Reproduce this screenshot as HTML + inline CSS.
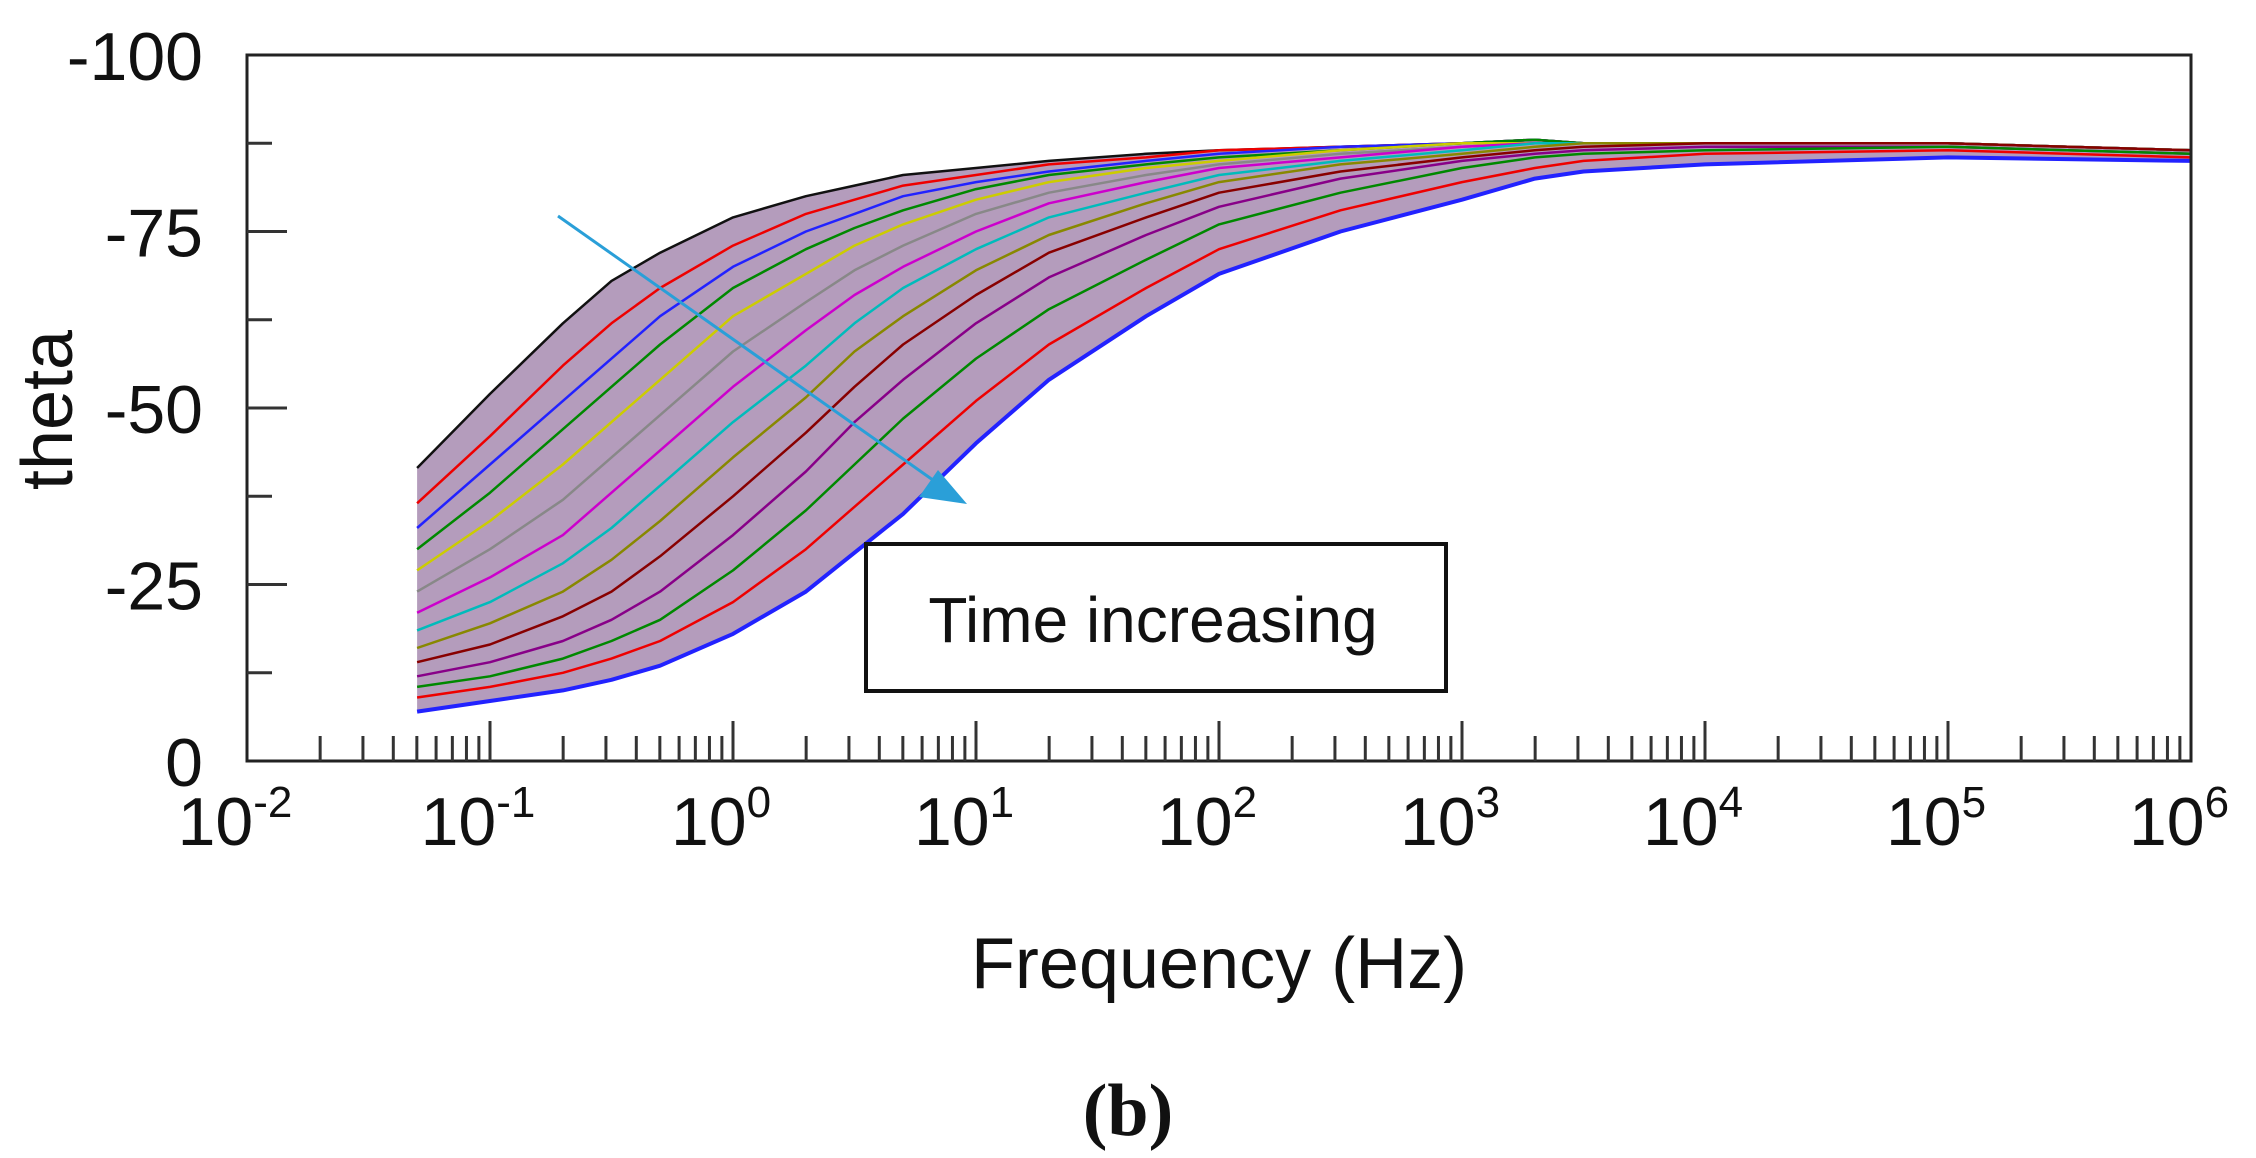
<!DOCTYPE html>
<html><head><meta charset="utf-8"><style>
html,body{margin:0;padding:0;background:#fff;}
svg{display:block;}
text{font-family:"Liberation Sans",sans-serif;fill:#111;}
</style></head><body>
<svg id="chart" width="2256" height="1158" viewBox="0 0 2256 1158" xmlns="http://www.w3.org/2000/svg">
<g id="band"></g>
<g id="curves"></g>
<rect x="247" y="55" width="1944" height="706" fill="none" stroke="#222" stroke-width="3"/>
<g id="ticks"></g>
<g id="labels"></g>
<text transform="translate(72,410) rotate(-90)" text-anchor="middle" font-size="72">theta</text>
<text x="1219" y="988" text-anchor="middle" font-size="72">Frequency (Hz)</text>
<text x="1128" y="1135" text-anchor="middle" font-size="74" font-weight="bold" style="font-family:'Liberation Serif',serif">(b)</text>
<g>
<line x1="558" y1="216" x2="940" y2="485" stroke="#2a9fd8" stroke-width="3"/>
<polygon points="967,504 919,497 938,470" fill="#2a9fd8"/>
</g>
<rect x="866" y="544" width="580" height="147" fill="#fff" stroke="#111" stroke-width="4"/>
<text x="1153" y="642" text-anchor="middle" font-size="64">Time increasing</text>
</svg>
<script>
const logFreq=[-1.3,-1,-0.7,-0.5,-0.3,0,0.3,0.5,0.7,1,1.3,1.7,2,2.5,3,3.3,3.5,4,5,6];
const c1=[-41.5,-52,-62,-68,-72,-77,-80,-81.5,-83,-84,-85,-86,-86.5,-87,-87.5,-88,-87.5,-87.5,-87.5,-86.5];
const c2=[-36.5,-46,-56,-62,-67,-73,-77.5,-79.5,-81.5,-83,-84.5,-85.5,-86.5,-87,-87.5,-88,-87.5,-87.5,-87.5,-86.5];
const c3=[-33,-42,-51,-57,-63,-70,-75,-77.5,-80,-82,-83.5,-85,-86,-87,-87.5,-88,-87.5,-87.5,-87.5,-86.5];
const c4=[-30,-38,-47,-53,-59,-67,-72.5,-75.5,-78,-81,-83,-84.5,-85.5,-86.5,-87.5,-88,-87.5,-87.5,-87.5,-86.5];
const c5=[-27,-34,-42,-48,-54,-63,-69,-73,-76,-79.5,-82,-84,-85,-86.5,-87.5,-87.5,-87.5,-87.5,-87.5,-86.5];
const c6=[-24,-30,-37,-43,-49,-58,-65,-69.5,-73,-77.5,-80.5,-83,-84.5,-86,-87,-87.5,-87.5,-87.5,-87.5,-86.5];
const c7=[-21,-26,-32,-38,-44,-53,-61,-66,-70,-75,-79,-82,-84,-85.5,-87,-87.5,-87.5,-87.5,-87.5,-86.5];
const c8=[-18.5,-22.5,-28,-33,-39,-48,-56,-62,-67,-72.5,-77,-80.5,-83,-85,-86.5,-87.5,-87.5,-87.5,-87.5,-86.5];
const c9=[-16,-19.5,-24,-28.5,-34,-43,-51.5,-58,-63,-69.5,-74.5,-79,-82,-84.5,-86,-87,-87.5,-87.5,-87.5,-86.5];
const c10=[-14,-16.5,-20.5,-24,-29,-37.5,-46.5,-53,-59,-66,-72,-77,-80.5,-83.5,-85.5,-86.5,-87,-87.5,-87.5,-86.5];
const c11=[-12,-14,-17,-20,-24,-32,-41,-48,-54,-62,-68.5,-74.5,-78.5,-82.5,-85,-86,-86.5,-87,-87,-86];
const c12=[-10.5,-12,-14.5,-17,-20,-27,-35.5,-42,-48.5,-57,-64,-71,-76,-80.5,-84,-85.5,-86,-86.5,-87,-86];
const c13=[-9,-10.5,-12.5,-14.5,-17,-22.5,-30,-36,-42,-51,-59,-67,-72.5,-78,-82,-84,-85,-86,-86.5,-85.5];
const c14=[-7,-8.5,-10,-11.5,-13.5,-18,-24,-29.5,-35,-45,-54,-63,-69,-75,-79.5,-82.5,-83.5,-84.5,-85.5,-85];
const seriesList=[c1,c2,c3,c4,c5,c6,c7,c8,c9,c10,c11,c12,c13,c14];
const colors=["#111","#e00","#22f","#080","#cc0","#888","#c0c","#0bb","#880","#800","#808","#080","#e00","#22f"];
const yTickValues=[-100,-75,-50,-25,0];
const yTickLabels=["-100","-75","-50","-25","0"];
const xDecades=[-2,-1,0,1,2,3,4,5,6];

const NS="http://www.w3.org/2000/svg";
const X0=247,X1=2191,Y0=55,Y1=761;
const xScale=l=>X0+(l+2)/8*(X1-X0);
const yScale=v=>Y1+(v/100)*(Y1-Y0);
function mk(tag,attrs,parent){const e=document.createElementNS(NS,tag);for(const k in attrs)e.setAttribute(k,attrs[k]);parent.appendChild(e);return e;}

const band=document.getElementById('band');
let pts=logFreq.map((l,i)=>xScale(l)+","+yScale(c1[i]));
for(let i=logFreq.length-1;i>=0;i--)pts.push(xScale(logFreq[i])+","+yScale(c14[i]));
const bp=mk('polygon',{points:pts.join(" "),fill:"#6a3a7a","fill-opacity":"0.5"},band);



const cg=document.getElementById('curves');
seriesList.forEach((s,k)=>{
  const d=s.map((v,i)=>(i?"L":"M")+xScale(logFreq[i]).toFixed(1)+" "+yScale(v).toFixed(1)).join(" ");
  const p=mk('path',{d:d,fill:"none",stroke:colors[k],"stroke-width":(k===13?4:2.5),"stroke-linejoin":"round"},cg);
  
  
});

const tg=document.getElementById('ticks');
for(let v=-87.5;v<=0;v+=12.5){
  const major=Math.abs(v%25)<1e-6;
  if(v===0)continue;
  const t=mk('line',{x1:X0,x2:X0+(major?40:25),y1:yScale(v),y2:yScale(v),stroke:"#333","stroke-width":3},tg);
  
  
}
xDecades.forEach(d=>{
  if(d>-2&&d<6){const t=mk('line',{x1:xScale(d),x2:xScale(d),y1:Y1,y2:Y1-40,stroke:"#333","stroke-width":3},tg);
    
    }
  if(d<6)for(let m=2;m<=9;m++){
    const x=xScale(d+Math.log10(m));
    const t=mk('line',{x1:x,x2:x,y1:Y1,y2:Y1-25,stroke:"#333","stroke-width":3},tg);
    
    
  }
});
const lg=document.getElementById('labels');
yTickValues.forEach((v,i)=>{
  const t=mk('text',{x:203,y:yScale(v)+25,"text-anchor":"end","font-size":"68"},lg);
  t.textContent=yTickLabels[i];
  
  
});
xDecades.forEach(d=>{
  const t=mk('text',{x:xScale(d)-12,y:845,"text-anchor":"middle","font-size":"68"},lg);
  t.textContent="10";
  const s=mk('tspan',{dy:"-28","font-size":"44"},t);
  s.textContent=String(d);
  
  
});
</script>
</body></html>
